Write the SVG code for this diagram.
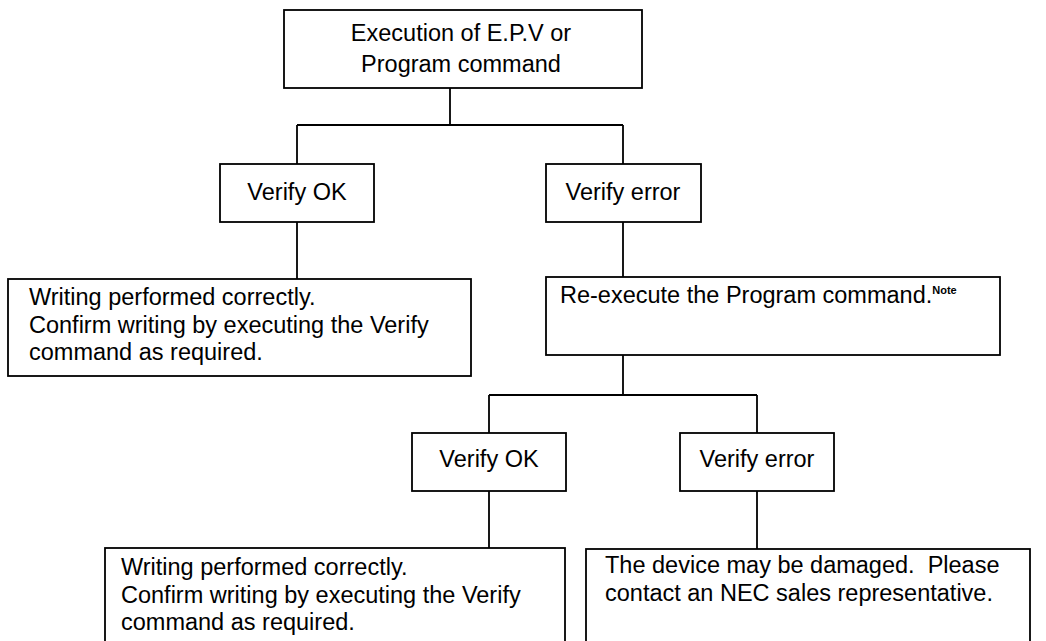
<svg xmlns="http://www.w3.org/2000/svg" width="1046" height="641" viewBox="0 0 1046 641">
  <style>
    .box { fill: #ffffff; stroke: #000000; stroke-width: 1.8; }
    .wire { fill: none; stroke: #000000; stroke-width: 1.8; }
    .t { font-family: "Liberation Sans", Arial, sans-serif; font-size: 23.5px; fill: #000000; }
    .c { text-anchor: middle; }
    .sup { font-family: "Liberation Sans", Arial, sans-serif; font-size: 11px; font-weight: bold; fill: #000000; }
  </style>
  <rect width="1046" height="641" fill="#ffffff"/>

  <!-- connectors: stems and branch bars of the decision tree -->
  <g id="connectors">
    <path class="wire" d="M450 88 V125 M297 125 H623 M297 125 V164 M623 125 V164"/>
    <path class="wire" d="M297 222 V279 M623 222 V277"/>
    <path class="wire" d="M623 355 V395 M489 395 H757 M489 395 V433 M757 395 V433"/>
    <path class="wire" d="M489 491 V548 M757 491 V549"/>
  </g>

  <g id="start">
    <rect class="box" x="284" y="10" width="358" height="78"/>
    <text class="t c" x="461" y="41">Execution of E.P.V or</text>
    <text class="t c" x="461" y="72">Program command</text>
  </g>

  <g id="verify-ok-1">
    <rect class="box" x="220" y="164" width="154" height="58"/>
    <text class="t c" x="297" y="200">Verify OK</text>
  </g>

  <g id="verify-error-1">
    <rect class="box" x="546" y="164" width="155" height="58"/>
    <text class="t c" x="623" y="200">Verify error</text>
  </g>

  <g id="written-ok-1">
    <rect class="box" x="8" y="279" width="463" height="97"/>
    <text class="t" x="29" y="305">Writing performed correctly.</text>
    <text class="t" x="29" y="333">Confirm writing by executing the Verify</text>
    <text class="t" x="29" y="360">command as required.</text>
  </g>

  <g id="re-execute">
    <rect class="box" x="546" y="277" width="454" height="78"/>
    <text class="t" x="560" y="303">Re-execute the Program command.<tspan class="sup" dy="-9">Note</tspan></text>
  </g>

  <g id="verify-ok-2">
    <rect class="box" x="412" y="433" width="154" height="58"/>
    <text class="t c" x="489" y="467">Verify OK</text>
  </g>

  <g id="verify-error-2">
    <rect class="box" x="680" y="433" width="154" height="58"/>
    <text class="t c" x="757" y="467">Verify error</text>
  </g>

  <g id="written-ok-2">
    <rect class="box" x="105" y="548" width="460" height="110"/>
    <text class="t" x="121" y="575">Writing performed correctly.</text>
    <text class="t" x="121" y="603">Confirm writing by executing the Verify</text>
    <text class="t" x="121" y="630">command as required.</text>
  </g>

  <g id="device-damaged">
    <rect class="box" x="586" y="549" width="444" height="110"/>
    <text class="t" x="605" y="573">The device may be damaged.&#160; Please</text>
    <text class="t" x="605" y="601">contact an NEC sales representative.</text>
  </g>
</svg>
